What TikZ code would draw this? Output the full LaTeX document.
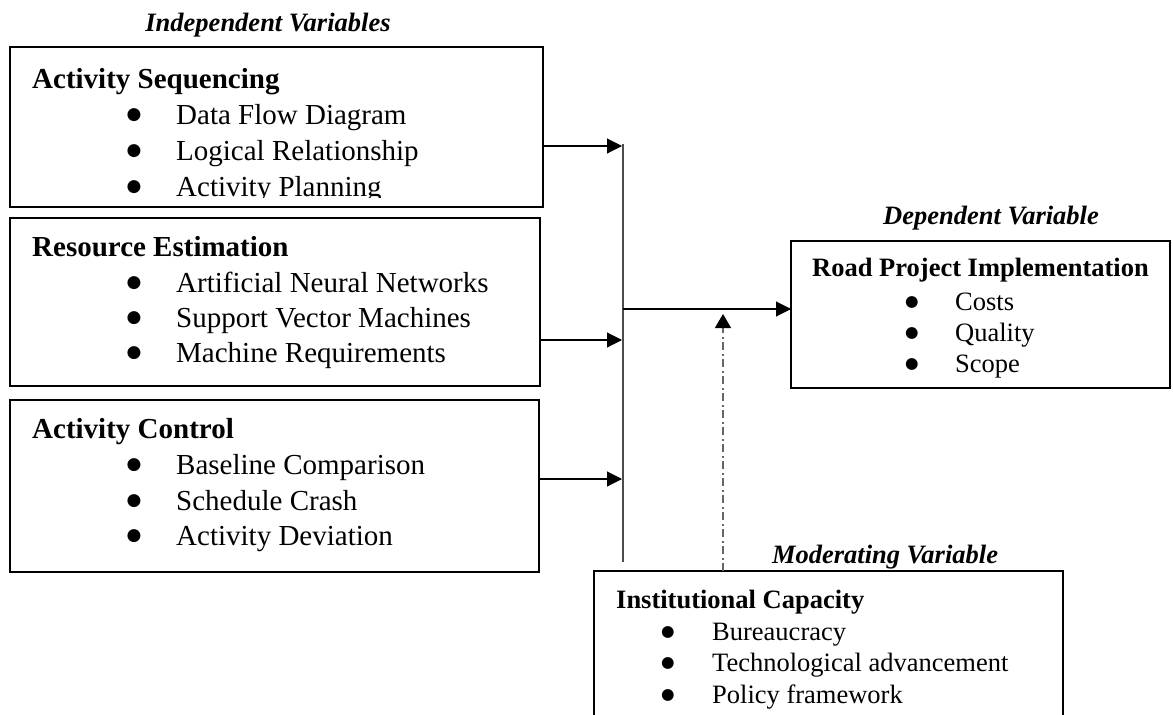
\documentclass[tikz,border=0pt]{standalone}
\usepackage{fontspec}
\setmainfont{Liberation Serif}
\newfontfamily\bulfont{DejaVu Sans}
\usetikzlibrary{arrows.meta}
\tikzset{
 vbox/.style={draw=black, line width=2.5pt, rectangle, inner sep=0pt, outer sep=0pt, anchor=north west},
 bigtxt/.style={font=\fontsize{29}{35}\selectfont, anchor=base west, inner sep=0pt},
 bighead/.style={font=\fontsize{29}{35}\selectfont\bfseries, anchor=base west, inner sep=0pt},
 smtxt/.style={font=\fontsize{26.5}{32}\selectfont, anchor=base west, inner sep=0pt},
 smhead/.style={font=\fontsize{26.5}{32}\selectfont\bfseries, anchor=base west, inner sep=0pt},
 lbl/.style={font=\fontsize{26.5}{32}\selectfont\bfseries\itshape, anchor=base, inner sep=0pt},
 bigbul/.style={font=\bulfont\fontsize{17}{17}\selectfont, anchor=center, inner sep=0pt},
 smbul/.style={font=\bulfont\fontsize{15.5}{15.5}\selectfont, anchor=center, inner sep=0pt},
 arr/.style={line width=1.1pt, draw=black, -{Triangle[length=15pt,width=15pt]}},
 bus/.style={line width=1.4pt, draw=black!70},
 modarr/.style={line width=1.4pt, draw=black!60, dash pattern=on 8pt off 3.5pt on 2pt off 3.5pt, -{Triangle[length=14pt,width=16pt,color=black]}},
}
\begin{document}
\begin{tikzpicture}[x=1pt,y=-1pt]
\clip (0,0) rectangle (1173,715);
\fill[white] (0,0) rectangle (1173,715);

% labels
\node[lbl] (lind) at (268,31) {Independent Variables};
\node[lbl] (ldep) at (991,224) {Dependent Variable};
\node[lbl] (lmod) at (885,563) {Moderating Variable};

% boxes
\node[vbox, minimum width=533, minimum height=160] (box1) at (10,47) {};
\node[vbox, minimum width=530, minimum height=168] (box2) at (10,218) {};
\node[vbox, minimum width=529, minimum height=172] (box3) at (10,400) {};
\node[vbox, minimum width=379, minimum height=147] (dep) at (791,241) {};
\node[vbox, minimum width=469, minimum height=200] (mod) at (594,571) {};

% box 1 text (clipped at the bottom)
\begin{scope}
\clip (10,47) rectangle (543,197);
\node[bighead] (h1) at (32,88) {Activity Sequencing};
\node[bigbul] (b11) at (134,115) {●};
\node[bigtxt] (t11) at (176,124) {Data Flow Diagram};
\node[bigbul] (b12) at (134,151) {●};
\node[bigtxt] (t12) at (176,160) {Logical Relationship};
\node[bigbul] (b13) at (134,187) {●};
\node[bigtxt] (t13) at (176,196) {Activity Planning};
\end{scope}

% box 2 text
\node[bighead] (h2) at (32,256) {Resource Estimation};
\node[bigbul] (b21) at (134,283) {●};
\node[bigtxt] (t21) at (176,292) {Artificial Neural Networks};
\node[bigbul] (b22) at (134,318) {●};
\node[bigtxt] (t22) at (176,327) {Support Vector Machines};
\node[bigbul] (b23) at (134,353) {●};
\node[bigtxt] (t23) at (176,362) {Machine Requirements};

% box 3 text
\node[bighead] (h3) at (32,438) {Activity Control};
\node[bigbul] (b31) at (134,465) {●};
\node[bigtxt] (t31) at (176,474) {Baseline Comparison};
\node[bigbul] (b32) at (134,501) {●};
\node[bigtxt] (t32) at (176,510) {Schedule Crash};
\node[bigbul] (b33) at (134,536) {●};
\node[bigtxt] (t33) at (176,545) {Activity Deviation};

% dependent box text
\node[smhead] (hd) at (812,276) {Road Project Implementation};
\node[smbul] (bd1) at (912,302) {●};
\node[smtxt] (td1) at (955,310) {Costs};
\node[smbul] (bd2) at (912,333) {●};
\node[smtxt] (td2) at (955,341) {Quality};
\node[smbul] (bd3) at (912,364) {●};
\node[smtxt] (td3) at (955,372) {Scope};

% moderating box text
\node[smhead] (hm) at (616,608) {Institutional Capacity};
\node[smbul] (bm1) at (668,632) {●};
\node[smtxt] (tm1) at (712,640) {Bureaucracy};
\node[smbul] (bm2) at (668,663) {●};
\node[smtxt] (tm2) at (712,671) {Technological advancement};
\node[smbul] (bm3) at (668,695) {●};
\node[smtxt] (tm3) at (712,703) {Policy framework};

% connectors
\coordinate (busTop) at (623,144);
\coordinate (busBot) at (623,562);
\coordinate (j1) at (622,146);
\coordinate (j2) at (622,340);
\coordinate (j3) at (622,479);
\coordinate (jout) at (623,309);
\coordinate (modtip) at (723,314);

\draw[bus] (busTop) -- (busBot);
\draw[arr] (box1.east |- j1) -- (j1);
\draw[arr] (box2.east |- j2) -- (j2);
\draw[arr] (box3.east |- j3) -- (j3);
\draw[arr] (jout) -- (dep.west |- jout);
\draw[modarr] (mod.north -| modtip) -- (modtip);
\end{tikzpicture}
\end{document}
